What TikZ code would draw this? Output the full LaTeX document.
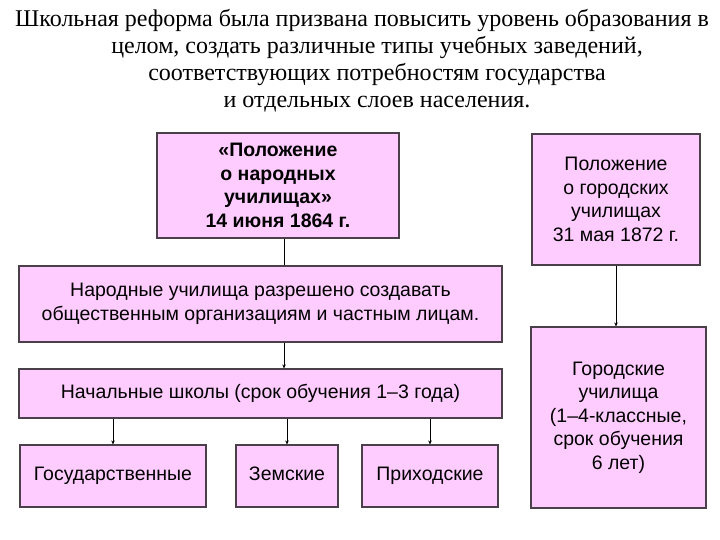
\documentclass[tikz,border=0pt]{standalone}
\usepackage{fontspec}
\setmainfont{Liberation Serif}
\newfontfamily\boxfont{Liberation Sans}
\usepackage{xcolor}
\usetikzlibrary{arrows.meta}
\definecolor{boxpink}{HTML}{FFCCFF}
\definecolor{boxline}{HTML}{4A404A}

\begin{document}
\begin{tikzpicture}[x=1pt, y=-1pt,
    box/.style={draw=boxline, fill=boxpink, line width=1.1pt, align=center,
      inner sep=0pt, font=\boxfont\fontsize{19.5}{23.5}\selectfont},
    leaf/.style={box, minimum height=62pt, text height=14pt, text depth=4.5pt},
    link/.style={draw=black, line width=0.8pt},
    arr/.style={link, -{Stealth[length=4pt, width=3.5pt]}}]
  \useasboundingbox (0,0) rectangle (720,540);

  % Title
  \node[align=center, font=\fontsize{24}{27}\selectfont] (title) at (362,61)
    {Школьная реформа была призвана повысить уровень образования в\\
     \hspace*{30pt}целом, создать различные типы учебных заведений,\\
     \hspace*{30pt}соответствующих потребностям государства\\
     \hspace*{30pt}и отдельных слоев населения.};

  % Left column
  \node[box, minimum width=242pt, minimum height=105pt, font=\boxfont\bfseries\fontsize{19.5}{23.5}\selectfont]
    (narod) at (278,185.5) {«Положение\\о народных\\училищах»\\14 июня 1864 г.};
  \node[box, minimum width=483pt, minimum height=76pt] (allow) at (260.5,304)
    {Народные училища разрешено создавать\\общественным организациям и частным лицам.};
  \node[box, minimum width=483pt, minimum height=49pt] (nach) at (260.5,393.5)
    {Начальные школы (срок обучения 1–3 года)};
  \node[leaf, minimum width=186pt] (gos) at (113,476) {Государственные};
  \node[leaf, minimum width=102pt] (zem) at (287,476) {Земские};
  \node[leaf, minimum width=136pt] (prih) at (430,476) {Приходские};

  % Right column
  \node[box, minimum width=168pt, minimum height=131pt] (gorod) at (616,199.5)
    {Положение\\о городских\\училищах\\31 мая 1872 г.};
  \node[box, minimum width=175pt, minimum height=181pt] (gorsch) at (618.5,417.5)
    {Городские\\училища\\(1–4-классные,\\срок обучения\\6 лет)};

  % Connectors
  \coordinate (axis) at (284,0);
  \draw[link] (narod.south -| axis) -- (allow.north -| axis);
  \draw[arr] (allow.south -| axis) -- (nach.north -| axis);
  \draw[arr] (nach.south -| gos.north) -- (gos.north);
  \draw[arr] (nach.south -| zem.north) -- (zem.north);
  \draw[arr] (nach.south -| prih.north) -- (prih.north);
  \draw[arr] (gorod.south) -- (gorsch.north -| gorod.south);
\end{tikzpicture}
\end{document}
